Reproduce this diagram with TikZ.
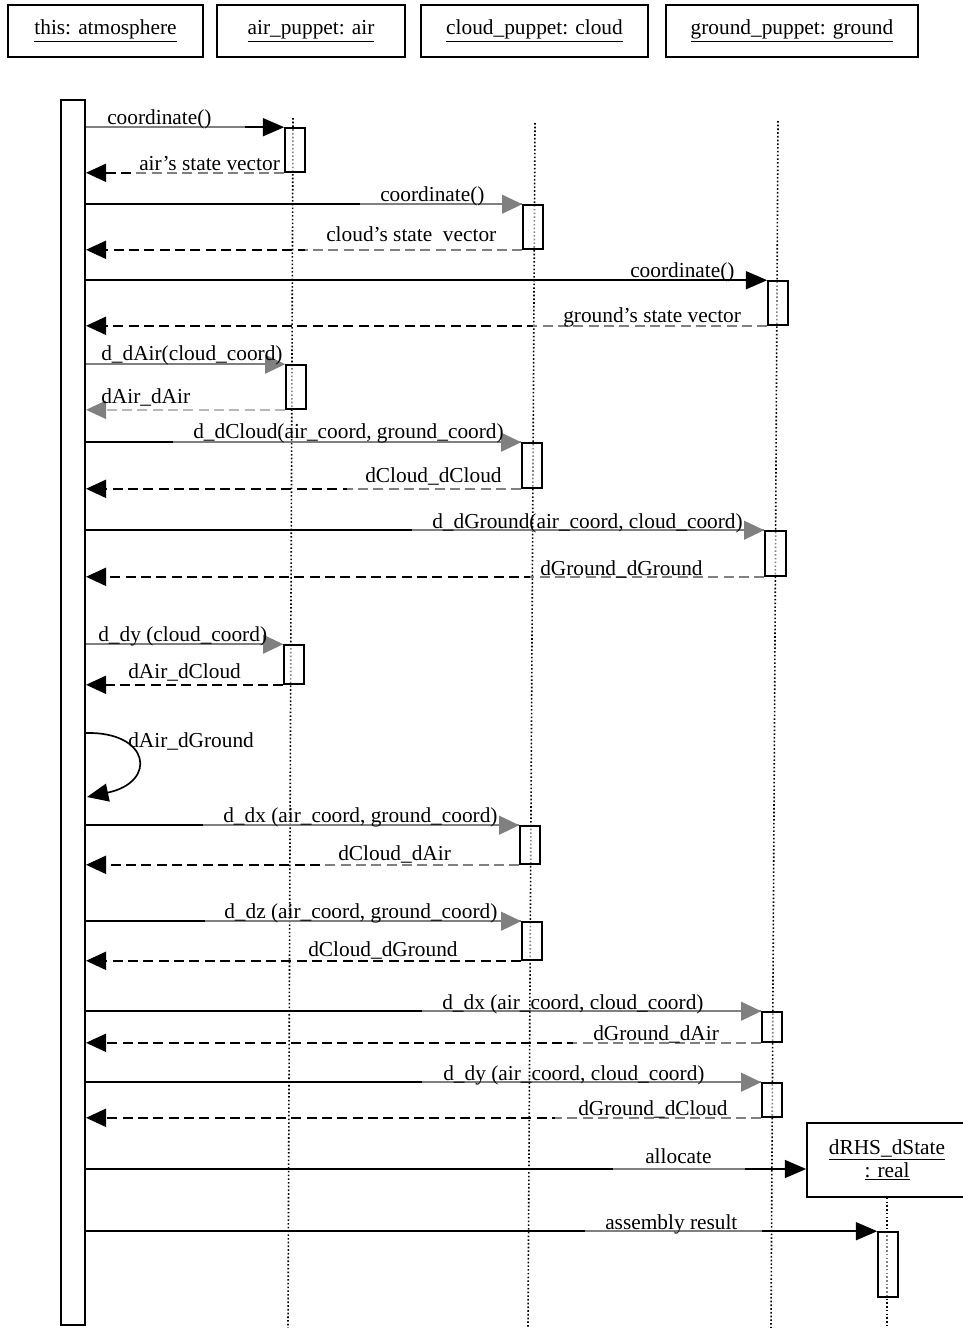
\documentclass[tikz,border=0pt]{standalone}
\usepackage{fontspec}
\setmainfont{Liberation Serif}
\usetikzlibrary{arrows.meta,fit}
\definecolor{midgray}{HTML}{808080}
\definecolor{palegray}{HTML}{B8B8B8}
\begin{document}
\begin{tikzpicture}[x=0.75pt,y=-0.75pt,
  font=\fontsize{16}{19}\selectfont,
  headbox/.style={draw, line width=1.3pt, inner sep=0pt, minimum height=39pt},
  barbox/.style={draw, line width=1.5pt, inner sep=0pt},
  act/.style={draw, line width=1.2pt, inner sep=0pt, fill=white, fill opacity=0.5},
  lifeline/.style={line width=1.2pt, dash pattern=on 1.2pt off 1.6pt},
  call/.style={line width=1.25pt, -{Triangle[length=16pt,width=13.5pt]}},
  callg/.style={line width=1.25pt, -{Triangle[length=15pt,width=14pt,color=midgray]}},
  ret/.style={line width=1.35pt, dash pattern=on 7.5pt off 4pt, -{Triangle[length=15pt,width=13.5pt]}},
  retg/.style={line width=1.35pt, palegray, dash pattern=on 7.5pt off 4pt, -{Triangle[length=15pt,width=13.5pt,color=midgray]}},
  grayline/.style={line width=1.25pt, midgray},
  graydash/.style={line width=1.35pt, midgray, dash pattern=on 7.5pt off 4pt},
  lbl/.style={anchor=base west, inner sep=0pt}]

\useasboundingbox (0,0) rectangle (963,1328);
\clip (0,0) rectangle (963,1328);

% object headers
\node[headbox, minimum width=146.25pt] (hatm) at (105.5,31) {\underline{this: atmosphere}};
\node[headbox, minimum width=141pt] (hair) at (311,31) {\underline{air\_puppet: air}};
\node[headbox, minimum width=170.25pt] (hcloud) at (534.5,31) {\underline{cloud\_puppet: cloud}};
\node[headbox, minimum width=189pt] (hground) at (792,31) {\underline{ground\_puppet: ground}};

% lifelines
\coordinate (airtop) at (293,118);   \coordinate (airbot) at (288,1328);
\coordinate (cloudtop) at (535,123); \coordinate (cloudbot) at (528,1328);
\coordinate (groundtop) at (778,121);\coordinate (groundbot) at (771,1328);
\draw[lifeline] (airtop) -- (airbot);
\draw[lifeline] (cloudtop) -- (cloudbot);
\draw[lifeline] (groundtop) -- (groundbot);

% result object
\node[draw, line width=1.3pt, fill=white, minimum width=120pt, minimum height=55.5pt,
      align=center, inner sep=0pt, font=\fontsize{16}{17.25}\selectfont]
  (drhs) at (887,1160) {\underline{dRHS\_dState}\\\underline{: real}};
\coordinate (drhsbot) at (887,1328);
\draw[lifeline] (drhs.south) -- (drhsbot);

% activation of the caller
\node[barbox, fit={(61,100) (85,1325)}] (atm) {};

% activation boxes
\node[act, fit={(285,128) (305,172)}] (a1) {};
\node[act, fit={(523,205) (543,249)}] (a2) {};
\node[act, fit={(768,281) (788,325)}] (a3) {};
\node[act, fit={(286,365) (306,409)}] (a4) {};
\node[act, fit={(522,443) (542,488)}] (a5) {};
\node[act, fit={(765,531) (786,576)}] (a6) {};
\node[act, fit={(284,645) (304,684)}] (a7) {};
\node[act, fit={(520,826) (540,864)}] (a8) {};
\node[act, fit={(522,922) (542,960)}] (a9) {};
\node[act, fit={(762,1012) (782,1042)}] (a10) {};
\node[act, fit={(762,1083) (782,1117)}] (a11) {};
\node[act, fit={(878,1232) (898,1297)}] (a12) {};

% coordinate() to air
\draw[call] (atm.east |- a1.north west) -- (a1.north west);
\draw[grayline] (atm.east |- a1.north west) -- (245,0 |- a1.north west);
\node[lbl] (m1) at (107,124) {coordinate()};
\draw[ret] (a1.south west) -- (atm.east |- a1.south west);
\draw[graydash] (a1.south west) -- (135,0 |- a1.south west);
\node[lbl] (r1) at (139,170) {air’s state vector};

% coordinate() to cloud
\draw[callg] (atm.east |- a2.north west) -- (a2.north west);
\draw[grayline] (360,0 |- a2.north west) -- (a2.north west);
\node[lbl] (m2) at (380,201) {coordinate()};
\draw[ret] (a2.south west) -- (atm.east |- a2.south west);
\draw[graydash] (a2.south west) -- (305,0 |- a2.south west);
\node[lbl] (r2) at (326,241) {cloud’s state\ \ vector};

% coordinate() to ground
\draw[call] (atm.east |- a3.north west) -- (a3.north west);
\node[lbl] (m3) at (630,277) {coordinate()};
\draw[ret] (a3.south west) -- (atm.east |- a3.south west);
\draw[graydash] (a3.south west) -- (533,0 |- a3.south west);
\node[lbl] (r3) at (563,322) {ground’s state vector};

% d_dAir
\draw[callg, midgray] (atm.east |- a4.north west) -- (a4.north west);
\node[lbl] (m4) at (101,360) {d\_dAir(cloud\_coord)};
\draw[retg] (a4.south west) -- (atm.east |- a4.south west);
\node[lbl] (r4) at (101,403) {dAir\_dAir};

% d_dCloud
\draw[callg] (atm.east |- a5.north west) -- (a5.north west);
\draw[grayline] (173,0 |- a5.north west) -- (a5.north west);
\node[lbl] (m5) at (193,438) {d\_dCloud(air\_coord, ground\_coord)};
\draw[ret] (a5.south west) -- (atm.east |- a5.south west);
\draw[graydash] (a5.south west) -- (347,0 |- a5.south west);
\node[lbl] (r5) at (365,482) {dCloud\_dCloud};

% d_dGround
\draw[callg] (atm.east |- a6.north west) -- (a6.north west);
\draw[grayline] (412,0 |- a6.north west) -- (a6.north west);
\node[lbl] (m6) at (432,528) {d\_dGround(air\_coord, cloud\_coord)};
\draw[ret] (a6.south west) -- (atm.east |- a6.south west);
\draw[graydash] (a6.south west) -- (530,0 |- a6.south west);
\node[lbl] (r6) at (540,575) {dGround\_dGround};

% d_dy (cloud_coord)
\draw[callg, midgray] (atm.east |- a7.north west) -- (a7.north west);
\node[lbl] (m7) at (98,641) {d\_dy (cloud\_coord)};
\draw[ret] (a7.south west) -- (atm.east |- a7.south west);
\node[lbl] (r7) at (128,678) {dAir\_dCloud};

% self call
\coordinate (loopA) at (85,733);
\coordinate (loopB) at (87,797);
\draw[call] (loopA) .. controls (150,731) and (158,782) .. (loopB);
\node[lbl] (m8) at (128,747) {dAir\_dGround};

% d_dx (air_coord, ground_coord)
\draw[callg] (atm.east |- a8.north west) -- (a8.north west);
\draw[grayline] (203,0 |- a8.north west) -- (a8.north west);
\node[lbl] (m9) at (223,822) {d\_dx (air\_coord, ground\_coord)};
\draw[ret] (a8.south west) -- (atm.east |- a8.south west);
\draw[graydash] (a8.south west) -- (322,0 |- a8.south west);
\node[lbl] (r9) at (338,860) {dCloud\_dAir};

% d_dz (air_coord, ground_coord)
\draw[callg] (atm.east |- a9.north west) -- (a9.north west);
\draw[grayline] (205,0 |- a9.north west) -- (a9.north west);
\node[lbl] (m10) at (224,918) {d\_dz (air\_coord, ground\_coord)};
\draw[ret] (a9.south west) -- (atm.east |- a9.south west);
\node[lbl] (r10) at (308,956) {dCloud\_dGround};

% d_dx (air_coord, cloud_coord)
\draw[callg] (atm.east |- a10.north west) -- (a10.north west);
\draw[grayline] (422,0 |- a10.north west) -- (a10.north west);
\node[lbl] (m11) at (442,1009) {d\_dx (air\_coord, cloud\_coord)};
\draw[ret] (a10.south west) -- (atm.east |- a10.south west);
\draw[graydash] (a10.south west) -- (573,0 |- a10.south west);
\node[lbl] (r11) at (593,1040) {dGround\_dAir};

% d_dy (air_coord, cloud_coord)
\draw[callg] (atm.east |- a11.north west) -- (a11.north west);
\draw[grayline] (422,0 |- a11.north west) -- (a11.north west);
\node[lbl] (m12) at (443,1080) {d\_dy (air\_coord, cloud\_coord)};
\draw[ret] (a11.south west) -- (atm.east |- a11.south west);
\draw[graydash] (a11.south west) -- (555,0 |- a11.south west);
\node[lbl] (r12) at (578,1115) {dGround\_dCloud};

% allocate
\coordinate (alloc) at ([yshift=-6.75pt]drhs.west);
\draw[call] (atm.east |- alloc) -- (alloc);
\draw[grayline] (613,0 |- alloc) -- (745,0 |- alloc);
\node[lbl] (m13) at (645,1163) {allocate};

% assembly result
\draw[call] (atm.east |- a12.north west) -- (a12.north west);
\draw[grayline] (585,0 |- a12.north west) -- (762,0 |- a12.north west);
\node[lbl] (m14) at (605,1229) {assembly result};
\end{tikzpicture}
\end{document}
